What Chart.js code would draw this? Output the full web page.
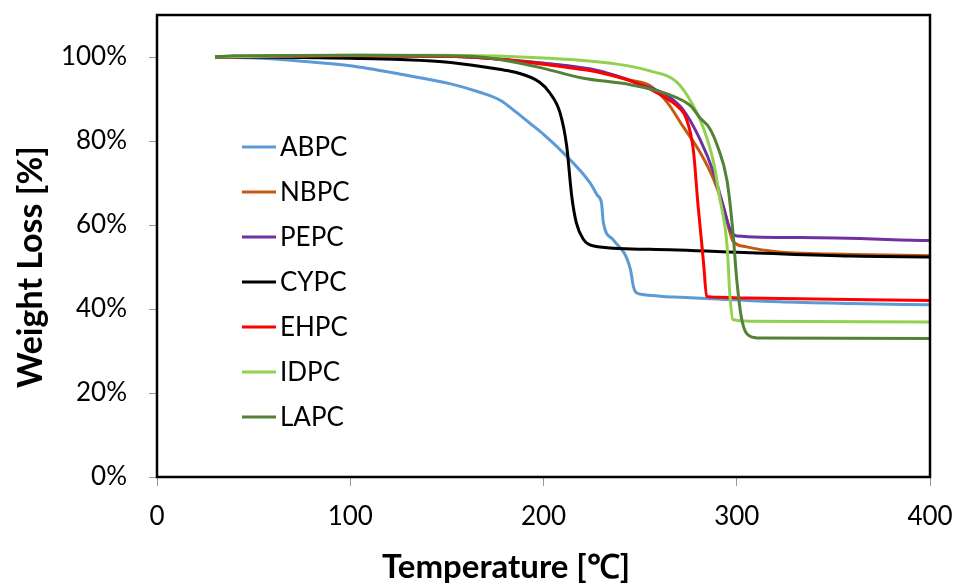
<!DOCTYPE html>
<html>
<head>
<meta charset="utf-8">
<script src="https://cdn.jsdelivr.net/npm/chart.js@4/dist/chart.umd.min.js"></script>
<style>
  html, body { margin: 0; padding: 0; background: #fff; }
  #wrap { width: 956px; height: 585px; }
</style>
</head>
<body>
<div id="wrap"><canvas id="tga"></canvas></div>
<script>
// temperatures (°C) and weight (%)
var abpcT = [30, 48, 75, 100, 126, 152, 167, 178, 186, 193, 200, 210, 224, 228, 230, 231, 236, 245, 246.5, 248, 252, 262, 271, 290, 322, 359, 400];
var abpcW = [100, 99.8, 99.0, 97.9, 95.9, 93.6, 91.6, 89.6, 86.8, 84.2, 81.6, 77.3, 70.1, 67.0, 65.3, 60.5, 56.5, 49.4, 45.4, 43.9, 43.4, 43.0, 42.8, 42.4, 41.7, 41.3, 41.0];

var nbpcT = [30, 100, 150, 200, 229, 245, 255, 264, 272, 281, 288, 293, 296.5, 298, 305, 322, 360, 400];
var nbpcW = [100, 100.3, 100.2, 98.5, 96.5, 94.5, 93.2, 89.2, 83.6, 77.3, 70.9, 64.5, 58.2, 56.2, 54.8, 53.6, 53.0, 52.7];

var pepcT = [30, 100, 150, 200, 229, 250, 264, 272, 281, 288, 293, 296.5, 300, 333, 400];
var pepcW = [100, 100.3, 100.2, 98.5, 96.7, 93.5, 90.8, 87.6, 80.4, 72.5, 64.5, 59.0, 57.4, 57.0, 56.3];

var cypcT = [30, 75, 100, 126, 152, 178, 186, 198, 203, 208.5, 212, 214.6, 217, 220.6, 226, 255, 307, 359, 400];
var cypcW = [100, 99.9, 99.7, 99.4, 98.7, 97.0, 96.3, 94.0, 91.6, 86.8, 78.8, 66.9, 60.5, 56.6, 55.0, 54.2, 53.4, 52.6, 52.4];

var ehpcT = [30, 100, 150, 167, 200, 219, 229, 245, 255, 264, 269, 274, 277.5, 280, 282, 283, 284.4, 290, 305, 400];
var ehpcW = [100, 100.3, 100.2, 99.9, 98.3, 97.1, 96.3, 94.3, 92.4, 90.0, 88.4, 85.2, 78.0, 64.5, 55.0, 50.0, 43.0, 42.8, 42.6, 42.0];

var idpcT = [30, 100, 150, 203, 238, 255, 269, 277.5, 283, 288, 291, 295, 296.5, 298, 307, 400];
var idpcW = [100, 100.4, 100.4, 99.7, 98.3, 96.7, 94.0, 88.4, 82.8, 74.9, 66.9, 55.0, 43.0, 37.5, 37.1, 36.9];

var lapcT = [30, 40, 100, 150, 167, 186, 200, 220, 245, 264, 276, 281, 286, 290, 295, 298, 300, 302.6, 307, 312, 400];
var lapcW = [100, 100.3, 100.4, 100.3, 100.0, 98.7, 97.3, 95.0, 93.4, 91.2, 88.4, 85.5, 83.0, 78.8, 70.5, 58.5, 47.0, 37.5, 33.5, 33.1, 33.0];

var seriesNames = ["ABPC", "NBPC", "PEPC", "CYPC", "EHPC", "IDPC", "LAPC"];
var seriesColors = ["#5B9BD5", "#C55A11", "#7030A0", "#000000", "#FF0000", "#92D050", "#538135"];
var seriesT = [abpcT, nbpcT, pepcT, cypcT, ehpcT, idpcT, lapcT];
var seriesW = [abpcW, nbpcW, pepcW, cypcW, ehpcW, idpcW, lapcW];

var yTicks = [0, 20, 40, 60, 80, 100];
var xTicks = [0, 100, 200, 300, 400];
var xTitle = "Temperature [℃]";
var yTitle = "Weight Loss [%]";

var FONT = "Lato, 'Liberation Sans', sans-serif";

var datasets = seriesNames.map(function(name, i) {
    return {
        label: name,
        data: seriesT[i].map(function(t, k) { return { x: t, y: seriesW[i][k] }; }),
        borderColor: seriesColors[i],
        backgroundColor: seriesColors[i],
        borderWidth: 3,
        pointRadius: 0,
        fill: false,
        cubicInterpolationMode: "monotone",
        order: seriesNames.length - i
    };
});

// no extra room for overhanging tick labels
function noPad(s) {
    s.paddingTop = 0;
    s.paddingBottom = 0;
    s.paddingLeft = 0;
    s.paddingRight = 0;
}

// frame round the plot area
var frame = {
    id: "frame",
    afterDatasetsDraw: function(chart) {
        var a = chart.chartArea, c = chart.ctx;
        c.save();
        c.strokeStyle = "#000";
        c.lineWidth = 2.5;
        c.strokeRect(a.left, a.top, a.right - a.left, a.bottom - a.top);
        c.restore();
    }
};

// axis titles sit off-centre in the original, so they are drawn here
var axisTitles = {
    id: "axisTitles",
    afterDraw: function(chart) {
        var c = chart.ctx;
        c.save();
        c.fillStyle = "#000";
        c.textAlign = "center";
        c.textBaseline = "middle";
        c.font = "bold 33px " + FONT;
        c.fillText(xTitle, 506, 567);
        c.translate(31, 267);
        c.rotate(-Math.PI / 2);
        c.font = "bold 34px " + FONT;
        c.fillText(yTitle, 0, 0);
        c.restore();
    }
};

// legend inside the plot, like the original
var innerLegend = {
    id: "innerLegend",
    afterDraw: function(chart) {
        var c = chart.ctx;
        c.save();
        c.font = "26px " + FONT;
        c.textBaseline = "middle";
        seriesNames.forEach(function(name, i) {
            var y = 147 + i * 45;
            c.strokeStyle = seriesColors[i];
            c.lineWidth = 3;
            c.beginPath();
            c.moveTo(242, y);
            c.lineTo(276, y);
            c.stroke();
            c.fillStyle = "#000";
            c.fillText(name, 280, y + 1);
        });
        c.restore();
    }
};

new Chart(document.getElementById("tga"), {
    type: "line",
    data: { datasets: datasets },
    plugins: [frame, axisTitles, innerLegend],
    options: {
        responsive: true,
        maintainAspectRatio: false,
        animation: false,
        layout: { padding: { top: 15, right: 26, left: 0, bottom: 0 } },
        plugins: { legend: { display: false }, tooltip: { enabled: false } },
        scales: {
            x: {
                type: "linear",
                min: 0,
                max: 400,
                afterBuildTicks: function(s) { s.ticks = xTicks.map(function(v) { return { value: v }; }); },
                afterFit: function(s) { s.height = 108; noPad(s); },
                grid: { drawOnChartArea: false, drawTicks: true, tickLength: 9, color: "#999" },
                border: { display: false },
                ticks: { padding: 15, color: "#000", font: { family: FONT, size: 26 } },
                title: { display: false }
            },
            y: {
                min: 0,
                max: 110,
                afterBuildTicks: function(s) { s.ticks = yTicks.map(function(v) { return { value: v }; }); },
                afterFit: function(s) { s.width = 157; noPad(s); },
                grid: { drawOnChartArea: false, drawTicks: true, tickLength: 8, color: "#999" },
                border: { display: false },
                ticks: { padding: 22, color: "#000", font: { family: FONT, size: 26 }, callback: function(v) { return v + "%"; } },
                title: { display: false }
            }
        }
    }
});
</script>
</body>
</html>
